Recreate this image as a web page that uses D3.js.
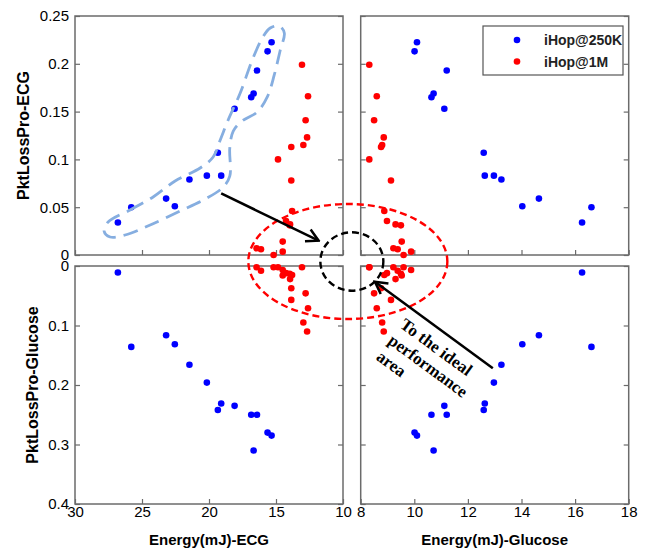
<!DOCTYPE html>
<html>
<head>
<meta charset="utf-8">
<script src="https://cdn.jsdelivr.net/npm/d3@7"></script>
<style>
  body { margin: 0; background: #fff; }
  svg { display: block; font-family: Arial, "Liberation Sans", sans-serif; }
  .axis text { font-size: 15px; fill: #000; }
  .axis line { stroke: #6b6b6b; stroke-width: 1.2; }
  .axis path { display: none; }
  .frame { fill: none; stroke: #6b6b6b; stroke-width: 1.5; }
  .label { font-weight: bold; fill: #000; }
</style>
</head>
<body>
<div id="chart"></div>
<script>

// iHop@250K runs (one entry per configuration)
var ecgEnergy250K     = [26.8, 25.8, 23.2, 22.55, 21.46, 20.16, 19.09, 19.34, 18.09, 16.85, 16.67, 16.42, 15.63, 15.33];
var glucoseEnergy250K = [16.26, 16.61, 14.65, 14.03, 13.25, 12.97, 12.63, 12.59, 11.12, 10.64, 10.72, 11.21, 10.01, 10.10];
var ecgLoss250K       = [0.034, 0.050, 0.059, 0.051, 0.079, 0.083, 0.083, 0.107, 0.153, 0.165, 0.169, 0.193, 0.213, 0.2225];
var glucoseLoss250K   = [0.011, 0.136, 0.1165, 0.1316, 0.166, 0.196, 0.231, 0.242, 0.235, 0.250, 0.310, 0.250, 0.280, 0.285];

// iHop@1M runs
var ecgEnergy1M     = [12.68, 12.96, 12.61, 13.86, 12.79, 13.86, 13.06, 14.85, 16.12, 15.18, 14.50, 14.50, 14.25, 13.95, 16.45, 13.80, 13.98];
var glucoseEnergy1M = [8.86, 8.80, 8.60, 9.13, 8.50, 8.76, 8.32, 8.32, 9.38, 9.60, 9.88, 9.53, 8.98, 9.30, 9.22, 8.88, 9.50];
var ecgLoss1M       = [0.123, 0.115, 0.166, 0.078, 0.141, 0.113, 0.199, 0.100, 0.006, 0.000, 0.0035, 0.014, 0.0355, 0.032, 0.007, 0.046, 0.031];
var glucoseLoss1M   = [0.110, 0.095, 0.071, 0.057, 0.046, 0.0375, 0.002, 0.002, 0.008, 0.002, 0.0067, 0.016, 0.012, 0.022, 0.002, 0.015, 0.013];

var seriesNames = ["iHop@250K", "iHop@1M"];

// tick values
var ecgEnergyTicks = [30, 25, 20, 15, 10];
var glucoseEnergyTicks = [8, 10, 12, 14, 16, 18];
var ecgLossTicks = [0, 0.05, 0.1, 0.15, 0.2, 0.25];
var glucoseLossTicks = [0, 0.1, 0.2, 0.3, 0.4];

// outline drawn around the 250K runs (ECG energy, ECG loss)
var outline250K = [
  [27.53, 0.0345], [25.89, 0.0471], [24.17, 0.0607], [22.53, 0.0774], [20.66, 0.0910],
  [19.69, 0.1025], [19.16, 0.1203], [18.57, 0.1412], [17.67, 0.1695], [16.77, 0.2040],
  [16.02, 0.2270], [15.43, 0.2374], [14.75, 0.2395], [14.38, 0.2322], [14.68, 0.2144],
  [15.13, 0.1883], [15.65, 0.1653], [16.40, 0.1496], [17.52, 0.1402], [18.19, 0.1297],
  [18.45, 0.1119], [18.45, 0.0826], [19.01, 0.0701], [20.28, 0.0586], [22.15, 0.0460],
  [24.39, 0.0314], [26.26, 0.0209], [27.38, 0.0188], [27.83, 0.0251]
];

var colors = ["#0000ff", "#ff0000"];
var width = 648, height = 549;

function rows(ecgE, gluE, ecgL, gluL) {
  return ecgE.map(function(d, i) {
    return { ecgEnergy: d, glucoseEnergy: gluE[i], ecgLoss: ecgL[i], glucoseLoss: gluL[i] };
  });
}
var series = [
  rows(ecgEnergy250K, glucoseEnergy250K, ecgLoss250K, glucoseLoss250K),
  rows(ecgEnergy1M, glucoseEnergy1M, ecgLoss1M, glucoseLoss1M)
];

// scales for the four panels
var xEcg = d3.scaleLinear().domain([30, 10]).range([75, 343]);
var xGlu = d3.scaleLinear().domain([8, 18]).range([360.7, 628.7]);
var yEcg = d3.scaleLinear().domain([0, 0.25]).range([255, 16]);
var yGlu = d3.scaleLinear().domain([0, 0.4]).range([266, 504]);

var panels = [
  { x: xEcg, y: yEcg, xKey: "ecgEnergy", yKey: "ecgLoss", xTicks: ecgEnergyTicks, yTicks: ecgLossTicks, xLab: false, yLab: true },
  { x: xGlu, y: yEcg, xKey: "glucoseEnergy", yKey: "ecgLoss", xTicks: glucoseEnergyTicks, yTicks: ecgLossTicks, xLab: false, yLab: false },
  { x: xEcg, y: yGlu, xKey: "ecgEnergy", yKey: "glucoseLoss", xTicks: ecgEnergyTicks, yTicks: glucoseLossTicks, xLab: true, yLab: true },
  { x: xGlu, y: yGlu, xKey: "glucoseEnergy", yKey: "glucoseLoss", xTicks: glucoseEnergyTicks, yTicks: glucoseLossTicks, xLab: true, yLab: false }
];

var svg = d3.select("#chart").append("svg")
  .attr("width", width)
  .attr("height", height);

svg.append("rect").attr("width", width).attr("height", height).attr("fill", "#fff");

function fmt(d) { return String(+d.toFixed(2)); }
function blank() { return ""; }

// frames, ticks and tick labels
panels.forEach(function(p) {
  var x0 = d3.min(p.x.range()), x1 = d3.max(p.x.range());
  var y0 = d3.min(p.y.range()), y1 = d3.max(p.y.range());
  var g = svg.append("g");

  g.append("g").attr("class", "axis")
    .attr("transform", "translate(0," + y1 + ")")
    .call(d3.axisBottom(p.x).tickValues(p.xTicks).tickSize(-5).tickPadding(2).tickFormat(p.xLab ? fmt : blank));

  g.append("g").attr("class", "axis")
    .attr("transform", "translate(" + x0 + ",0)")
    .call(d3.axisLeft(p.y).tickValues(p.yTicks).tickSize(-5).tickPadding(6).tickFormat(p.yLab ? fmt : blank));

  g.append("g").attr("class", "axis")
    .attr("transform", "translate(" + x1 + ",0)")
    .call(d3.axisRight(p.y).tickValues(p.yTicks).tickSize(-5).tickFormat(blank));

  g.append("rect").attr("class", "frame")
    .attr("x", x0).attr("y", y0)
    .attr("width", x1 - x0).attr("height", y1 - y0);
});

// data points
panels.forEach(function(p) {
  series.forEach(function(data, s) {
    svg.append("g").selectAll("circle")
      .data(data)
      .enter().append("circle")
      .attr("cx", function(d) { return p.x(d[p.xKey]); })
      .attr("cy", function(d) { return p.y(d[p.yKey]); })
      .attr("r", 3.3)
      .attr("fill", colors[s]);
  });
});

// axis titles
svg.append("text").attr("class", "label")
  .attr("x", d3.mean(xEcg.range())).attr("y", 545)
  .attr("text-anchor", "middle").style("font-size", "15px")
  .text("Energy(mJ)-ECG");
svg.append("text").attr("class", "label")
  .attr("x", d3.mean(xGlu.range())).attr("y", 545)
  .attr("text-anchor", "middle").style("font-size", "15px")
  .text("Energy(mJ)-Glucose");
svg.append("text").attr("class", "label")
  .attr("transform", "translate(29," + d3.mean(yEcg.range()) + ") rotate(-90)")
  .attr("text-anchor", "middle").style("font-size", "16px")
  .text("PktLossPro-ECG");
svg.append("text").attr("class", "label")
  .attr("transform", "translate(37.5," + d3.mean(yGlu.range()) + ") rotate(-90)")
  .attr("text-anchor", "middle").style("font-size", "16px")
  .text("PktLossPro-Glucose");

// legend
var legend = svg.append("g").attr("transform", "translate(483,26)");
legend.append("rect")
  .attr("width", 140).attr("height", 49)
  .attr("fill", "#fff").attr("stroke", "#555").attr("stroke-width", 1.2);
seriesNames.forEach(function(name, i) {
  legend.append("circle").attr("cx", 34).attr("cy", 14 + i * 21.5).attr("r", 3.3).attr("fill", colors[i]);
  legend.append("text").attr("x", 61).attr("y", 19 + i * 21.5)
    .style("font-size", "14px").style("font-weight", "bold").attr("fill", "#222")
    .text(name);
});

// annotations
var defs = svg.append("defs");
defs.append("marker")
  .attr("id", "head")
  .attr("viewBox", "-14 -8 16 16")
  .attr("markerWidth", 16).attr("markerHeight", 16)
  .attr("markerUnits", "userSpaceOnUse")
  .attr("orient", "auto")
  .append("path")
  .attr("d", "M-12,-6.5L0,0L-12,6.5")
  .attr("fill", "none").attr("stroke", "#000").attr("stroke-width", 2.5);

svg.append("path")
  .datum(outline250K)
  .attr("d", d3.line()
    .x(function(d) { return xEcg(d[0]); })
    .y(function(d) { return yEcg(d[1]); })
    .curve(d3.curveCatmullRomClosed.alpha(0.5)))
  .attr("fill", "none")
  .attr("stroke", "#86aee0")
  .attr("stroke-width", 2.8)
  .attr("stroke-dasharray", "15,8");

var gapX = (d3.max(xEcg.range()) + d3.min(xGlu.range())) / 2;
var gapY = (d3.max(yEcg.range()) + d3.min(yGlu.range())) / 2;

svg.append("ellipse")
  .attr("cx", gapX - 4).attr("cy", gapY + 1)
  .attr("rx", 99.5).attr("ry", 57.5)
  .attr("fill", "none").attr("stroke", "#ff0000")
  .attr("stroke-width", 2.4).attr("stroke-dasharray", "7,4");

svg.append("ellipse")
  .attr("cx", gapX).attr("cy", gapY + 1)
  .attr("rx", 31.5).attr("ry", 29.2)
  .attr("fill", "none").attr("stroke", "#000")
  .attr("stroke-width", 2.4).attr("stroke-dasharray", "7,4");

var a1 = [xEcg(19.09), yEcg(0.0645), xEcg(11.82), yEcg(0.015)];
var a2 = [xGlu(12.93), yGlu(0.172), xGlu(8.53), yGlu(0.0264)];
[a1, a2].forEach(function(a) {
  svg.append("line")
    .attr("x1", a[0]).attr("y1", a[1]).attr("x2", a[2]).attr("y2", a[3])
    .attr("stroke", "#000").attr("stroke-width", 2.5)
    .attr("marker-end", "url(#head)");
});

// text along the lower arrow
var ang = Math.atan2(a2[1] - a2[3], a2[0] - a2[2]);
var ux = Math.cos(ang), uy = Math.sin(ang);
var tx = a2[2] + 46 * ux - 22 * uy;
var ty = a2[3] + 46 * uy + 22 * ux;
var note = svg.append("text")
  .attr("transform", "translate(" + tx + "," + ty + ") rotate(" + (ang * 180 / Math.PI) + ")")
  .style("font-family", "'Liberation Serif', 'DejaVu Serif', serif")
  .style("font-weight", "bold").style("font-size", "17px");
["To the ideal", "performance", "area"].forEach(function(t, i) {
  note.append("tspan").attr("x", 0).attr("y", i * 20).text(t);
});

</script>
</body>
</html>
